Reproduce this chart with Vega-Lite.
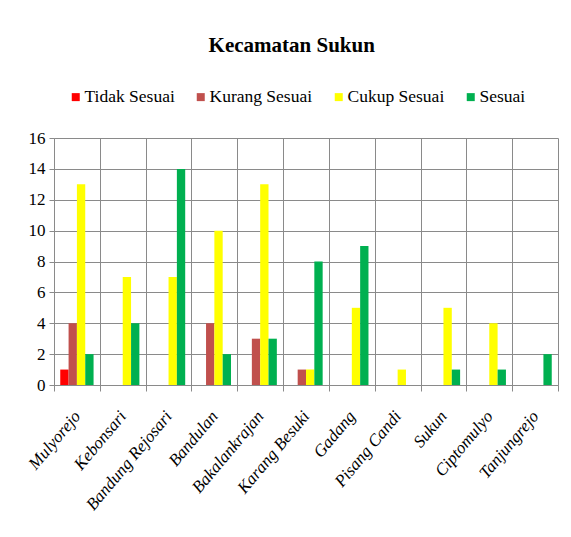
{
  "$schema": "https://vega.github.io/schema/vega-lite/v6.json",
  "width": 504,
  "height": 247,
  "autosize": {"type": "none"},
  "padding": {"left": 54, "top": 138, "right": 13, "bottom": 152},
  "background": "white",
  "title": {
    "text": "Kecamatan Sukun",
    "font": "Liberation Serif",
    "fontSize": 21,
    "fontWeight": "bold",
    "color": "#000000",
    "anchor": "middle",
    "frame": "bounds",
    "offset": 32
  },
  "data": {
    "values": [
      {"kel": "Mulyorejo", "kat": "Tidak Sesuai", "n": 1},
      {"kel": "Mulyorejo", "kat": "Kurang Sesuai", "n": 4},
      {"kel": "Mulyorejo", "kat": "Cukup Sesuai", "n": 13},
      {"kel": "Mulyorejo", "kat": "Sesuai", "n": 2},
      {"kel": "Kebonsari", "kat": "Tidak Sesuai", "n": 0},
      {"kel": "Kebonsari", "kat": "Kurang Sesuai", "n": 0},
      {"kel": "Kebonsari", "kat": "Cukup Sesuai", "n": 7},
      {"kel": "Kebonsari", "kat": "Sesuai", "n": 4},
      {"kel": "Bandung Rejosari", "kat": "Tidak Sesuai", "n": 0},
      {"kel": "Bandung Rejosari", "kat": "Kurang Sesuai", "n": 0},
      {"kel": "Bandung Rejosari", "kat": "Cukup Sesuai", "n": 7},
      {"kel": "Bandung Rejosari", "kat": "Sesuai", "n": 14},
      {"kel": "Bandulan", "kat": "Tidak Sesuai", "n": 0},
      {"kel": "Bandulan", "kat": "Kurang Sesuai", "n": 4},
      {"kel": "Bandulan", "kat": "Cukup Sesuai", "n": 10},
      {"kel": "Bandulan", "kat": "Sesuai", "n": 2},
      {"kel": "Bakalankrajan", "kat": "Tidak Sesuai", "n": 0},
      {"kel": "Bakalankrajan", "kat": "Kurang Sesuai", "n": 3},
      {"kel": "Bakalankrajan", "kat": "Cukup Sesuai", "n": 13},
      {"kel": "Bakalankrajan", "kat": "Sesuai", "n": 3},
      {"kel": "Karang Besuki", "kat": "Tidak Sesuai", "n": 0},
      {"kel": "Karang Besuki", "kat": "Kurang Sesuai", "n": 1},
      {"kel": "Karang Besuki", "kat": "Cukup Sesuai", "n": 1},
      {"kel": "Karang Besuki", "kat": "Sesuai", "n": 8},
      {"kel": "Gadang", "kat": "Tidak Sesuai", "n": 0},
      {"kel": "Gadang", "kat": "Kurang Sesuai", "n": 0},
      {"kel": "Gadang", "kat": "Cukup Sesuai", "n": 5},
      {"kel": "Gadang", "kat": "Sesuai", "n": 9},
      {"kel": "Pisang Candi", "kat": "Tidak Sesuai", "n": 0},
      {"kel": "Pisang Candi", "kat": "Kurang Sesuai", "n": 0},
      {"kel": "Pisang Candi", "kat": "Cukup Sesuai", "n": 1},
      {"kel": "Pisang Candi", "kat": "Sesuai", "n": 0},
      {"kel": "Sukun", "kat": "Tidak Sesuai", "n": 0},
      {"kel": "Sukun", "kat": "Kurang Sesuai", "n": 0},
      {"kel": "Sukun", "kat": "Cukup Sesuai", "n": 5},
      {"kel": "Sukun", "kat": "Sesuai", "n": 1},
      {"kel": "Ciptomulyo", "kat": "Tidak Sesuai", "n": 0},
      {"kel": "Ciptomulyo", "kat": "Kurang Sesuai", "n": 0},
      {"kel": "Ciptomulyo", "kat": "Cukup Sesuai", "n": 4},
      {"kel": "Ciptomulyo", "kat": "Sesuai", "n": 1},
      {"kel": "Tanjungrejo", "kat": "Tidak Sesuai", "n": 0},
      {"kel": "Tanjungrejo", "kat": "Kurang Sesuai", "n": 0},
      {"kel": "Tanjungrejo", "kat": "Cukup Sesuai", "n": 0},
      {"kel": "Tanjungrejo", "kat": "Sesuai", "n": 2}
    ]
  },
  "mark": {"type": "bar"},
  "encoding": {
    "x": {
      "field": "kel",
      "type": "nominal",
      "sort": null,
      "scale": {"paddingInner": 0, "paddingOuter": 0},
      "axis": {
        "title": null,
        "labelAngle": -50,
        "labelAlign": "right",
        "labelBaseline": "middle",
        "labelFont": "Liberation Serif",
        "labelFontStyle": "italic",
        "labelFontSize": 17,
        "labelColor": "#000000",
        "labelPadding": 22,
        "tickBand": "extent",
        "tickSize": 6,
        "tickColor": "#8a8a8a",
        "domainColor": "#8a8a8a",
        "grid": true,
        "gridColor": "#8a8a8a",
        "gridOpacity": 1
      }
    },
    "xOffset": {
      "field": "kat",
      "type": "nominal",
      "sort": ["Tidak Sesuai", "Kurang Sesuai", "Cukup Sesuai", "Sesuai"],
      "scale": {"paddingInner": 0, "paddingOuter": 0.75}
    },
    "y": {
      "field": "n",
      "type": "quantitative",
      "scale": {"domain": [0, 16]},
      "axis": {
        "title": null,
        "values": [0, 2, 4, 6, 8, 10, 12, 14, 16],
        "labelFont": "Liberation Serif",
        "labelFontSize": 17,
        "labelColor": "#000000",
        "labelPadding": 4,
        "tickSize": 5,
        "tickColor": "#8a8a8a",
        "domainColor": "#8a8a8a",
        "gridColor": "#8a8a8a",
        "gridOpacity": 1
      }
    },
    "color": {
      "field": "kat",
      "type": "nominal",
      "sort": ["Tidak Sesuai", "Kurang Sesuai", "Cukup Sesuai", "Sesuai"],
      "scale": {
        "domain": ["Tidak Sesuai", "Kurang Sesuai", "Cukup Sesuai", "Sesuai"],
        "range": ["#ff0000", "#c0504d", "#ffff00", "#00b050"]
      },
      "legend": {
        "title": null,
        "orient": "none",
        "direction": "horizontal",
        "legendX": 13,
        "legendY": -50,
        "symbolType": "square",
        "symbolSize": 64,
        "symbolStrokeWidth": 0,
        "symbolOpacity": 1,
        "labelFont": "Liberation Serif",
        "labelFontSize": 17.5,
        "labelColor": "#000000",
        "labelOffset": 0,
        "columnPadding": 17
      }
    }
  },
  "config": {
    "view": {"stroke": null},
    "axis": {"domainWidth": 1, "tickWidth": 1, "gridWidth": 1}
  }
}
